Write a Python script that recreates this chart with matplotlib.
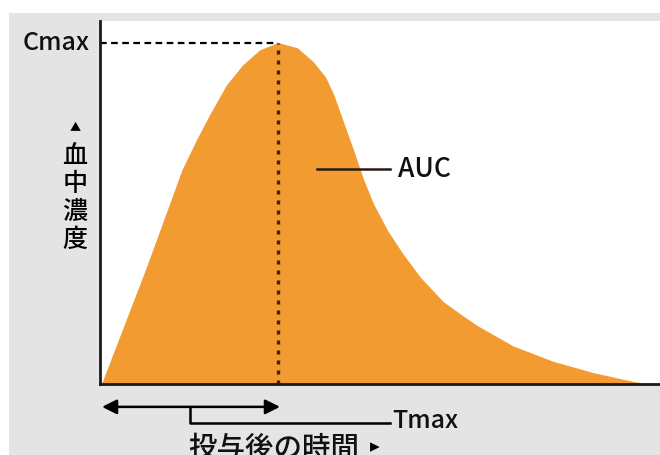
import matplotlib.pyplot as plt
from matplotlib.patches import Rectangle

# =====================
# 字体
# =====================
plt.rcParams['font.family'] = ['Noto Sans CJK JP', 'DejaVu Sans']
plt.rcParams['font.weight'] = 'medium'

# =====================
# 数据
# =====================
time_pts = [0.04, 0.94, 1.65, 1.94, 2.20, 2.54, 2.86, 3.20, 3.56, 3.94, 4.26,
            4.50, 4.66, 4.86, 5.06, 5.26, 5.46, 5.74, 6.04, 6.40, 6.86, 7.26,
            7.54, 8.26, 9.06, 9.86, 10.66, 10.90]
conc_pts = [0.0, 0.343, 0.628, 0.716, 0.789, 0.877, 0.935, 0.979, 1.0, 0.985,
            0.944, 0.900, 0.850, 0.768, 0.686, 0.600, 0.528, 0.450, 0.383,
            0.312, 0.240, 0.198, 0.170, 0.110, 0.065, 0.032, 0.006, 0.0]
t_max = 3.56
c_max = 1.0

orange = '#f29b31'

# =====================
# 创建图表
# =====================
W, H = 660, 455
fig = plt.figure(figsize=(W / 100, H / 100), dpi=100)
fig.patch.set_facecolor('white')
fig.patches.append(Rectangle((9 / W, 0), 1, 1 - 13 / H, transform=fig.transFigure,
                             facecolor='#e4e4e4', edgecolor='none', zorder=-10))

ax = fig.add_axes([100 / W, (H - 384) / H, 560 / W, (384 - 21) / H])
ax.set_xlim(0, 11.2)
ax.set_ylim(0, 1.065)
ax.set_facecolor('white')

# =====================
# 绘图
# =====================
ax.fill_between(time_pts, conc_pts, 0, color=orange, linewidth=0.8,
                edgecolor=orange)

ax.plot([0, t_max], [c_max, c_max], color='black', linestyle=(0, (3, 2)),
        linewidth=1.6)
ax.plot([t_max, t_max], [0, c_max], color='#4a1e00', linestyle=(0, (1.2, 1.8)),
        linewidth=2.4)

# AUC 标注
ax.plot([4.34, 5.8], [0.63, 0.63], color='#2a1a10', linewidth=1.8)
ax.text(5.96, 0.63, 'AUC', fontsize=19, va='center', ha='left', color='#111111')

# 坐标轴
for s in ['top', 'right']:
    ax.spines[s].set_visible(False)
for s in ['left', 'bottom']:
    ax.spines[s].set_linewidth(2)
    ax.spines[s].set_color('#1a1a1a')
ax.set_xticks([])
ax.set_yticks([])

# Cmax
ax.text(-0.2, c_max, 'Cmax', fontsize=18, ha='right', va='center',
        color='#111111')

# 纵轴标签
fig.text(75 / W, 1 - 128 / H, '▲', fontsize=8, ha='center', va='center')
fig.text(75 / W, 1 - 198 / H, '血\n中\n濃\n度', fontsize=18, ha='center',
         va='center', linespacing=1.1)

# =====================
# 下方箭头与 Tmax
# =====================
tr = ax.get_xaxis_transform()
ax.annotate('', xy=(0.04, -0.063), xytext=(t_max + 0.04, -0.063),
            xycoords=tr, textcoords=tr, annotation_clip=False,
            arrowprops=dict(arrowstyle='<|-|>', color='black', lw=1.8,
                            mutation_scale=22, shrinkA=0, shrinkB=0))
ax.plot([1.8, 1.8, 5.8], [-0.063, -0.107, -0.107], color='black',
        linewidth=1.8, transform=tr, clip_on=False)
ax.text(5.84, -0.103, 'Tmax', fontsize=18, ha='left', va='center',
        transform=tr, color='#111111')

# 参考图中这一行在底边被截断
ax.text(1.76, -0.178, '投与後の時間', fontsize=20.5, ha='left', va='center',
        transform=tr, color='#111111')
fig.text(375 / W, 1 - 447 / H, '▸', fontsize=14, ha='center', va='center',
         family='DejaVu Sans')

fig.savefig('out.png', dpi=100)
